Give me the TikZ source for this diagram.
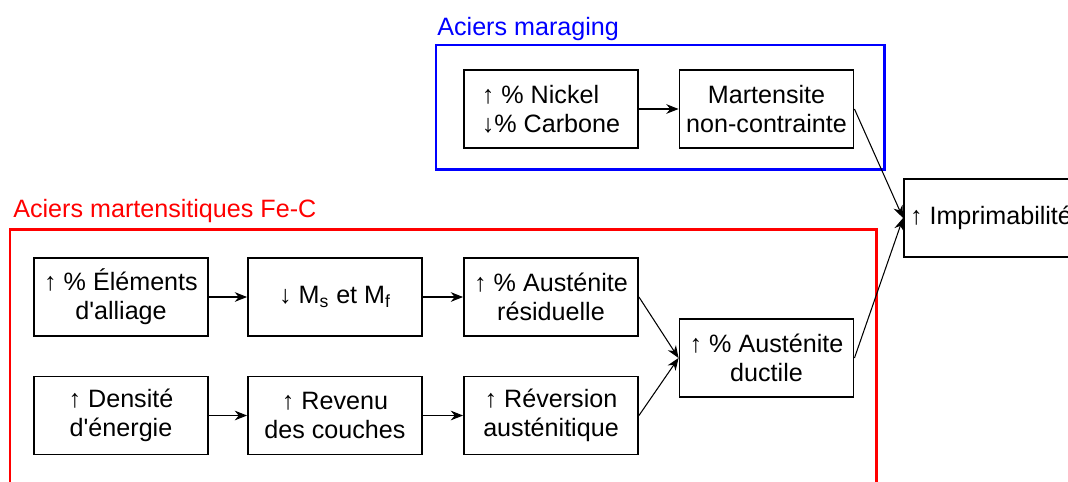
\documentclass[tikz,border=0pt]{standalone}
\usepackage{fontspec}
\setmainfont{Liberation Sans}
\usepackage{xcolor}
\usetikzlibrary{arrows.meta}
\definecolor{Frame}{HTML}{0000FF}
\definecolor{Steel}{HTML}{FF0000}

\begin{document}
\begin{tikzpicture}[x=0.02cm, y=-0.02cm,
    box/.style={draw=black, line width=1.1pt, fill=white, minimum width=3.48cm, minimum height=1.56cm, align=center, inner sep=1pt,
      font=\fontsize{14.3}{16.6}\selectfont},
    group/.style={line width=1.7pt},
    title/.style={anchor=base west, inner sep=0pt, font=\fontsize{14.3}{16.6}\selectfont},
    arrow/.style={-{Stealth[length=7pt, width=5.5pt]}, line width=0.6pt, draw=black}
  ]
    \useasboundingbox (0,0) rectangle (1068,481);

    % groupes
    \draw[group, draw=Frame] (436,45) rectangle (884,169);
    \node[title, text=Frame] (maraging) at (437,35) {Aciers maraging};
    \draw[group, draw=Steel] (10,229) rectangle (876,520);
    \node[title, text=Steel] (fec) at (13,217) {Aciers martensitiques Fe-C};

    \node[box, align=left] (nickel) at (551,109) {↑ \% Nickel\\↓\% Carbone};
    \node[box] (marten) at (766.5,109) {Martensite\\non-contrainte};
    \node[box] (imprim) at (991,218) {↑ Imprimabilité};

    \node[box] (elements) at (121,297) {↑ \% Éléments\\d\textquotesingle alliage};
    \node[box] (ms) at (335,297) {↓ M\textsubscript{s} et M\textsubscript{f}};
    \node[box] (resid) at (551,297) {↑ \% Austénite\\résiduelle};
    \node[box] (dens) at (121,415.5) {↑ Densité\\d\textquotesingle énergie};
    \node[box] (revenu) at (335,415.5) {↑ Revenu\\des couches};
    \node[box] (revers) at (551,415.5) {↑ Réversion\\austénitique};
    \node[box] (ductile) at (766.5,358) {↑ \% Austénite\\ductile};

    \draw[arrow] (nickel) -- (marten);
    \draw[arrow] (marten.east) -- (imprim.west);
    \draw[arrow] (elements) -- (ms);
    \draw[arrow] (ms) -- (resid);
    \draw[arrow] (dens) -- (revenu);
    \draw[arrow] (revenu) -- (revers);
    \draw[arrow] (resid.east) -- (ductile.west);
    \draw[arrow] (revers.east) -- (ductile.west);
    \draw[arrow] (ductile.east) -- (imprim.west);
  \end{tikzpicture}
\end{document}
